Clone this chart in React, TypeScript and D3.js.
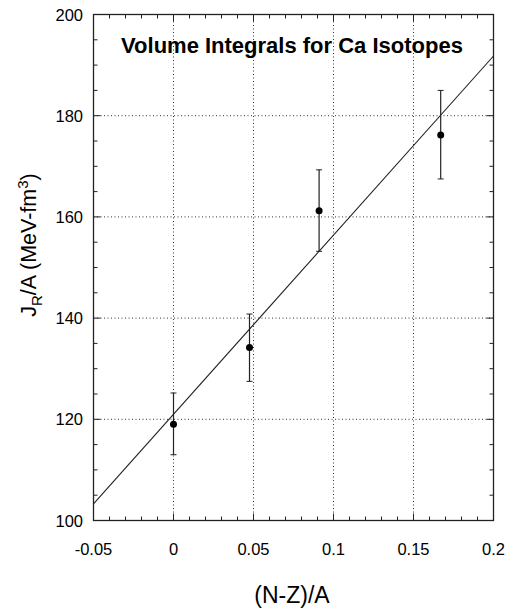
import React from "react";
import * as d3 from "d3";

const xValues = [0, 0.0475, 0.091, 0.167];
const yValues = [119, 134.2, 161.2, 176.2];
const yErrLow = [113, 127.5, 153.2, 167.5];
const yErrHigh = [125.2, 140.8, 169.3, 185];
const fitX = [-0.05, 0.2];
const fitY = [103.3, 191.8];
const xTicks = [-0.05, 0, 0.05, 0.1, 0.15, 0.2];
const xTickLabels = ["-0.05", "0", "0.05", "0.1", "0.15", "0.2"];
const yTicks = [100, 120, 140, 160, 180, 200];
const yTickLabels = ["100", "120", "140", "160", "180", "200"];

const W = 508, H = 609;
const left = 93.5, right = 493.5, top = 14.5, bottom = 520.5;
const FONT = "'Liberation Sans', Arial, Helvetica, sans-serif";

export default function App() {
  const x = d3.scaleLinear().domain([-0.05, 0.2]).range([left, right]);
  const y = d3.scaleLinear().domain([100, 200]).range([bottom, top]);
  const xMinor = d3.range(-0.05, 0.2001, 0.01);
  const yMinor = d3.range(100, 200.01, 5);
  const line = d3.line<number>().x((_, i) => x(fitX[i])).y((d) => y(d));

  return (
    <svg width={W} height={H} style={{ position: "absolute", left: 0, top: 0, background: "#fff" }}>
      <rect x={0} y={0} width={W} height={H} fill="#fff" />
      {/* grid */}
      {xTicks.slice(1, -1).map((t) => (
        <line key={"gx" + t} x1={x(t)} x2={x(t)} y1={top} y2={bottom} stroke="#333" strokeWidth={1} strokeDasharray="1,2.5" />
      ))}
      {yTicks.slice(1, -1).map((t) => (
        <line key={"gy" + t} x1={left} x2={right} y1={y(t)} y2={y(t)} stroke="#333" strokeWidth={1} strokeDasharray="1,2.5" />
      ))}
      {/* minor ticks */}
      {xMinor.map((t, i) => {
        const major = i % 5 === 0;
        const len = major ? 7 : 4;
        return (
          <g key={"xm" + i}>
            <line x1={x(t)} x2={x(t)} y1={bottom} y2={bottom - len} stroke="#222" />
            <line x1={x(t)} x2={x(t)} y1={top} y2={top + len} stroke="#222" />
          </g>
        );
      })}
      {yMinor.map((t, i) => {
        const major = i % 4 === 0;
        const len = major ? 7 : 4;
        return (
          <g key={"ym" + i}>
            <line x1={left} x2={left + len} y1={y(t)} y2={y(t)} stroke="#222" />
            <line x1={right} x2={right - len} y1={y(t)} y2={y(t)} stroke="#222" />
          </g>
        );
      })}
      {/* frame */}
      <rect x={left} y={top} width={right - left} height={bottom - top} fill="none" stroke="#222" strokeWidth={1.3} />
      {/* fit line */}
      <path d={line(fitY) || ""} fill="none" stroke="#222" strokeWidth={1.1} />
      {/* error bars and points */}
      {xValues.map((xv, i) => (
        <g key={"p" + i}>
          <line x1={x(xv)} x2={x(xv)} y1={y(yErrLow[i])} y2={y(yErrHigh[i])} stroke="#222" strokeWidth={1.2} />
          <line x1={x(xv) - 3} x2={x(xv) + 3} y1={y(yErrLow[i])} y2={y(yErrLow[i])} stroke="#222" strokeWidth={1} />
          <line x1={x(xv) - 3} x2={x(xv) + 3} y1={y(yErrHigh[i])} y2={y(yErrHigh[i])} stroke="#222" strokeWidth={1} />
          <circle cx={x(xv)} cy={y(yValues[i])} r={3.5} fill="#000" />
        </g>
      ))}
      {/* tick labels */}
      {xTicks.map((t, i) => (
        <text key={"xl" + t} x={x(t)} y={555} textAnchor="middle" fontFamily={FONT} fontSize={16.5} fill="#000">
          {xTickLabels[i]}
        </text>
      ))}
      {yTicks.map((t, i) => (
        <text key={"yl" + t} x={83} y={y(t) + 6} textAnchor="end" fontFamily={FONT} fontSize={16.5} fill="#000">
          {yTickLabels[i]}
        </text>
      ))}
      {/* title */}
      <text x={292} y={53} textAnchor="middle" fontFamily={FONT} fontWeight="bold" fontSize={22} fill="#000">
        Volume Integrals for Ca Isotopes
      </text>
      {/* axis labels */}
      <text x={292} y={603} textAnchor="middle" fontFamily={FONT} fontSize={23} fill="#000">
        (N-Z)/A
      </text>
      <text transform={`translate(36,245) rotate(-90)`} textAnchor="middle" fontFamily={FONT} fontSize={21.5} fill="#000">
        <tspan>J</tspan>
        <tspan fontSize={15} dy={6}>R</tspan>
        <tspan dy={-6}>/A (MeV-fm</tspan>
        <tspan fontSize={15} dy={-8}>3</tspan>
        <tspan dy={8}>)</tspan>
      </text>
    </svg>
  );
}
